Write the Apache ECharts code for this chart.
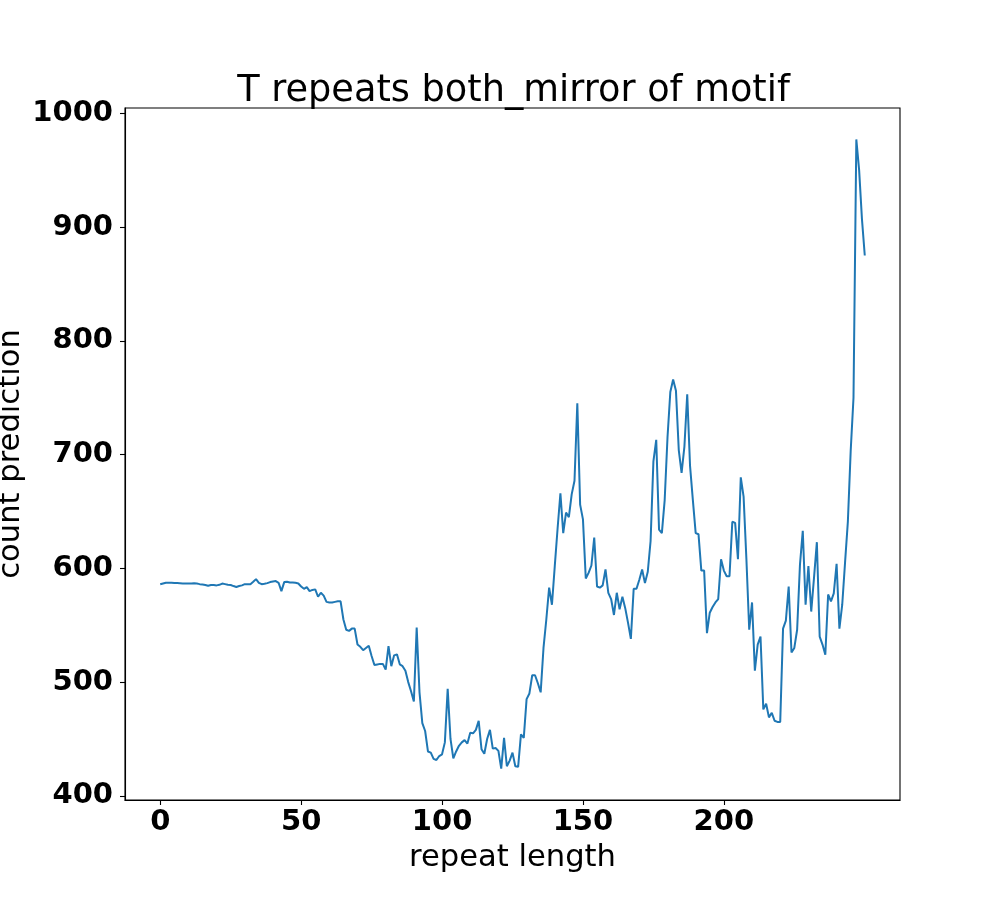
<!DOCTYPE html>
<html>
<head>
<meta charset="utf-8">
<script src="https://cdn.jsdelivr.net/npm/echarts@6/dist/echarts.min.js"></script>
<style>
html,body{margin:0;padding:0;background:#fff;}
#chart{width:1000px;height:900px;}
</style>
</head>
<body>
<div id="chart"></div>
<script>
// count prediction per repeat length (index 0..250)
const countPrediction = [
586,586.7,587.3,587.3,587.3,587.1,587,586.9,586.7,586.7,
586.7,586.7,586.9,586.6,586.1,585.8,585.4,584.7,585.3,585.3,
585,585.5,586.6,586.1,585.5,585.3,584.4,583.6,584.4,585,
586.1,586.1,586.1,588.2,590.5,587.3,586.1,586.4,587,587.9,
588.5,588.8,587.3,580,587.9,588.2,587.6,587.6,587.3,586.7,
584,582,583.5,580,581,581.5,575,578.5,576,570.5,
570,570,570.5,571,571,555,546,545,547,547,
533,531,528,530,532,523,515,515.5,516,516,
511,531.7,514,523.5,524.4,515.6,514,510,500,492,
483,548,491,464,457,439,438,432.5,431.5,435,
436.5,447,494,450,433,439,444,447,449,446,
455.5,455,458,466,441,437,450,458,441.5,442,
439.5,424,451,426,431,438,426,425.5,454,451,
485,490,506,506,499,491,530,555,583,568,
602,635,666,631,649,645,665,677,745,656,
643,591,596,602.5,627,584,583,585,599,578.5,
573,559,578.5,564,575,565,552,538,582,582,
590,599,587,597,624,694,713,634,631,660,
715,755,766,756,704,684,707,753,690,660,
631,630,598,598,543,561,566,570,573,608,
598,593,593,641,640,608,680,663,608,546,
570,510,533,540,476,481,469,473,466,465,
465,547,554,584,526,530,546,603,633,568,
602,562,592,623,540,533,524,577,571,578,
604,547,568,605,641,703,750,977,950,907,
875
];
const xTicks = [0, 50, 100, 150, 200];
const yTicks = [400, 500, 600, 700, 800, 900, 1000];
const titleText = 'T repeats both_mirror of motif';
const xName = 'repeat length';
const yName = 'count prediction';

const seriesData = countPrediction.map((v, i) => [i, v]);
const n = countPrediction.length - 1;

const chart = echarts.init(document.getElementById('chart'), null, {renderer: 'canvas'});
const font = 'DejaVu Sans';
chart.setOption({
  animation: false,
  backgroundColor: '#ffffff',
  title: {
    text: titleText,
    left: 508.5,
    top: 68,
    textAlign: 'center',
    textStyle: {fontFamily: font, fontSize: 36.7, fontWeight: 'normal', color: '#000'}
  },
  grid: {
    left: 125, right: 100, top: 108, bottom: 100,
    containLabel: false,
    outerBoundsMode: 'none',
    show: true, borderColor: '#000', borderWidth: 1.1, backgroundColor: 'transparent'
  },
  xAxis: {
    type: 'value',
    min: -0.05 * n,
    max: n * 1.05,
    name: xName,
    nameLocation: 'middle',
    nameGap: 43,
    nameMoveOverlap: false,
    nameTextStyle: {fontFamily: font, fontSize: 30.6, color: '#000'},
    axisLine: {show: true, onZero: false, lineStyle: {color: '#000', width: 1.1}},
    axisTick: {show: true, length: 5, lineStyle: {color: '#000', width: 1.1}, customValues: xTicks},
    axisLabel: {fontFamily: font, fontSize: 29, fontWeight: 'bold', color: '#000', margin: 8,
      customValues: xTicks, formatter: v => String(v)},
    splitLine: {show: false}
  },
  yAxis: {
    type: 'value',
    min: v => v.min - 0.05 * (v.max - v.min),
    max: v => v.max + 0.05 * (v.max - v.min),
    name: yName,
    nameLocation: 'middle',
    nameGap: 98,
    nameRotate: 90,
    nameMoveOverlap: false,
    nameTextStyle: {fontFamily: font, fontSize: 30.6, color: '#000'},
    axisLine: {show: true, onZero: false, lineStyle: {color: '#000', width: 1.1}},
    axisTick: {show: true, length: 5, lineStyle: {color: '#000', width: 1.1}, customValues: yTicks},
    axisLabel: {fontFamily: font, fontSize: 29, fontWeight: 'bold', color: '#000', margin: 12,
      customValues: yTicks, formatter: v => String(v)},
    splitLine: {show: false}
  },
  series: [{
    type: 'line',
    data: seriesData,
    showSymbol: false,
    symbol: 'none',
    lineStyle: {color: '#1f77b4', width: 2},
    itemStyle: {color: '#1f77b4'}
  }]
});
</script>
</body>
</html>
